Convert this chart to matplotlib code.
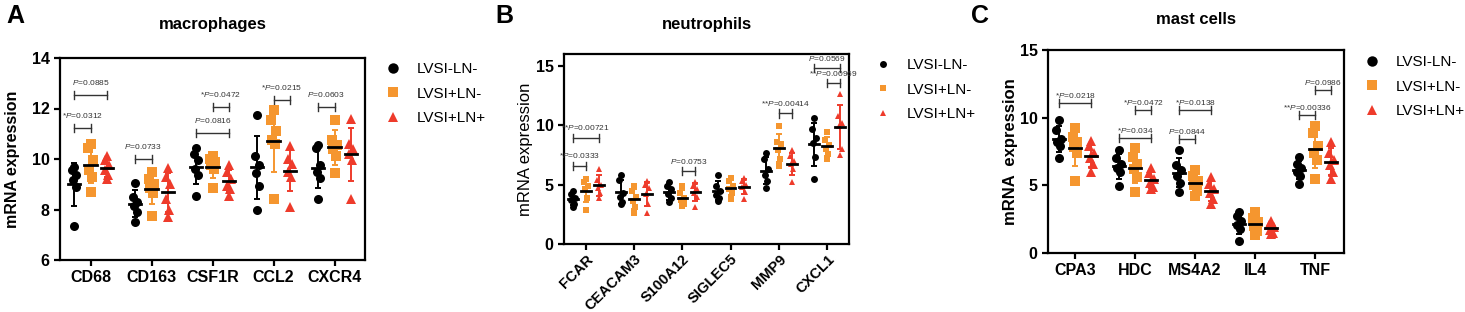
import numpy as np
import matplotlib.pyplot as plt
from matplotlib.lines import Line2D

plt.rcParams['font.family'] = ['Liberation Sans', 'DejaVu Sans']
plt.rcParams['mathtext.fontset'] = 'custom'
plt.rcParams['mathtext.it'] = 'Liberation Sans:italic'
plt.rcParams['mathtext.rm'] = 'Liberation Sans'

groups = ['LVSI-LN-', 'LVSI+LN-', 'LVSI+LN+']
colors = ['#000000', '#F5962F', '#EE3B2B']
markers = ['o', 's', '^']

# macrophages
mac_genes = ['CD68', 'CD163', 'CSF1R', 'CCL2', 'CXCR4']
mac_black = [[9.7, 9.55, 9.35, 9.15, 8.9, 7.35],
             [9.05, 8.5, 8.3, 8.15, 7.9, 7.5],
             [10.45, 10.2, 9.95, 9.6, 9.35, 8.55],
             [11.75, 10.1, 9.75, 9.45, 8.95, 8.0],
             [10.55, 10.45, 9.75, 9.5, 9.25, 8.4]]
mac_orange = [[10.6, 10.45, 9.95, 9.55, 9.3, 8.7],
              [9.5, 9.2, 9.0, 8.85, 8.65, 7.75],
              [10.1, 10.0, 9.9, 9.75, 9.6, 8.85],
              [11.95, 11.55, 11.1, 10.75, 10.6, 8.4],
              [11.55, 10.75, 10.55, 10.4, 10.1, 9.45]]
mac_red = [[10.1, 9.95, 9.75, 9.55, 9.35, 9.2],
           [9.65, 9.3, 9.0, 8.4, 8.0, 7.7],
           [9.75, 9.5, 9.2, 8.95, 8.8, 8.55],
           [10.5, 10.0, 9.8, 9.5, 9.3, 8.1],
           [11.6, 10.6, 10.4, 10.2, 9.95, 8.4]]
mac_brackets = [(0, 0, 2, 12.55, '$\\mathit{P}$=0.0885'),
                (0, 0, 1, 11.22, '*$\\mathit{P}$=0.0312'),
                (1, 0, 1, 10.0, '$\\mathit{P}$=0.0733'),
                (2, 0, 2, 11.03, '$\\mathit{P}$=0.0816'),
                (2, 1, 2, 12.06, '*$\\mathit{P}$=0.0472'),
                (3, 1, 2, 12.32, '*$\\mathit{P}$=0.0215'),
                (4, 0, 1, 12.06, '$\\mathit{P}$=0.0603')]

# neutrophils
neu_genes = ['FCAR', 'CEACAM3', 'S100A12', 'SIGLEC5', 'MMP9', 'CXCL1']
neu_black = [[4.5, 4.2, 3.9, 3.7, 3.4, 3.1],
             [5.8, 5.4, 4.3, 4.0, 3.5, 3.4],
             [5.2, 4.9, 4.6, 4.2, 3.9, 3.5],
             [5.8, 4.9, 4.5, 4.1, 3.9, 3.6],
             [7.7, 7.2, 6.3, 5.8, 5.3, 4.7],
             [10.6, 9.7, 8.9, 8.5, 7.3, 5.5]]
neu_orange = [[5.5, 5.2, 4.9, 4.6, 3.9, 2.9],
              [4.9, 4.5, 4.0, 3.6, 3.1, 2.6],
              [4.9, 4.3, 3.9, 3.7, 3.4, 3.2],
              [5.6, 5.3, 4.9, 4.6, 4.3, 3.8],
              [9.9, 8.6, 8.4, 7.9, 7.2, 6.6],
              [9.4, 8.8, 8.3, 8.0, 7.6, 7.2]]
neu_red = [[6.3, 5.4, 5.0, 4.7, 4.3, 3.9],
           [5.3, 4.95, 4.7, 4.2, 3.4, 2.6],
           [5.2, 4.9, 4.6, 4.3, 4.0, 3.1],
           [5.6, 5.3, 5.0, 4.8, 4.4, 3.8],
           [7.9, 7.4, 7.0, 6.7, 6.3, 5.2],
           [12.6, 10.8, 10.2, 9.9, 8.0, 7.5]]
neu_brackets = [(0, 0, 2, 8.96, '**$\\mathit{P}$=0.00721'),
                (0, 0, 1, 6.6, '*$\\mathit{P}$=0.0333'),
                (2, 1, 2, 6.13, '$\\mathit{P}$=0.0753'),
                (4, 1, 2, 10.99, '**$\\mathit{P}$=0.00414'),
                (5, 0, 2, 14.83, '$\\mathit{P}$=0.0569'),
                (5, 1, 2, 13.53, '**$\\mathit{P}$=0.00969')]

# mast cells
mast_genes = ['CPA3', 'HDC', 'MS4A2', 'IL4', 'TNF']
mast_black = [[9.8, 9.1, 8.4, 8.2, 7.9, 7.0],
              [7.6, 7.0, 6.6, 6.3, 6.0, 4.95],
              [7.6, 6.5, 6.1, 5.7, 5.2, 4.5],
              [3.0, 2.7, 2.4, 2.1, 1.8, 0.9],
              [7.1, 6.6, 6.3, 6.0, 5.7, 5.1]]
mast_orange = [[9.2, 8.6, 8.2, 7.8, 7.4, 5.3],
               [7.75, 7.1, 6.6, 6.2, 5.6, 4.5],
               [6.1, 5.7, 5.3, 5.0, 4.6, 4.2],
               [3.0, 2.6, 2.3, 2.0, 1.6, 1.35],
               [9.4, 8.9, 7.9, 7.4, 6.9, 5.5]]
mast_red = [[8.3, 7.9, 7.4, 7.0, 6.6, 6.0],
            [6.3, 5.9, 5.5, 5.2, 4.9, 4.7],
            [5.6, 5.1, 4.7, 4.4, 4.0, 3.6],
            [2.4, 2.1, 1.9, 1.7, 1.5, 1.4],
            [8.2, 7.4, 6.9, 6.5, 6.0, 5.5]]
mast_brackets = [(0, 0, 2, 11.06, '*$\\mathit{P}$=0.0218'),
                 (1, 1, 2, 10.57, '*$\\mathit{P}$=0.0472'),
                 (1, 0, 2, 8.47, '*$\\mathit{P}$=0.034'),
                 (2, 0, 2, 10.57, '*$\\mathit{P}$=0.0138'),
                 (2, 0, 1, 8.4, '$\\mathit{P}$=0.0844'),
                 (4, 0, 1, 10.2, '**$\\mathit{P}$=0.00336'),
                 (4, 1, 2, 12.05, '$\\mathit{P}$=0.0986')]

offsets = [-0.27, 0.0, 0.27]
jitter = [0.0, -0.04, 0.04, -0.025, 0.025, 0.0]


def draw_panel(ax, genes, series, brackets, ms, tick_h, txt_off):
    for g, vals in enumerate(series):
        for i, v in enumerate(vals):
            v = np.array(v)
            x0 = i + offsets[g]
            ax.plot(x0 + np.array(jitter[:len(v)]), v, markers[g], color=colors[g],
                    ms=ms, mew=0, zorder=3, clip_on=False)
            m, s = v.mean(), v.std(ddof=1)
            ax.errorbar(x0, m, yerr=s, color=colors[g], capsize=2.5, lw=1.4,
                        capthick=1.4, zorder=2)
            ax.plot([x0 - 0.1, x0 + 0.1], [m, m], color='black', lw=2.0, zorder=4)
    for i, a, b, y, lab in brackets:
        x1, x2 = i + offsets[a], i + offsets[b]
        ax.plot([x1, x2], [y, y], color='#333333', lw=1.0)
        ax.plot([x1, x1], [y - tick_h, y + tick_h], color='#333333', lw=1.0)
        ax.plot([x2, x2], [y - tick_h, y + tick_h], color='#333333', lw=1.0)
        ax.annotate(lab, ((x1 + x2) / 2, y), xytext=(0, txt_off), textcoords='offset points',
                    ha='center', va='center', fontsize=6, color='#333333')
    ax.set_xticks(range(len(genes)))
    for sp in ax.spines.values():
        sp.set_linewidth(1.6)
    ax.tick_params(width=1.6, length=4)


fig = plt.figure(figsize=(14.65, 3.12), dpi=100)

axA = fig.add_axes([60 / 1465, 1 - 260 / 312, 305 / 1465, 202 / 312])
draw_panel(axA, mac_genes, [mac_black, mac_orange, mac_red], mac_brackets, 6.5, 0.16, 9)
axA.set_xlim(-0.5, 4.5)
axA.set_ylim(6, 14)
axA.set_yticks([6, 8, 10, 12, 14])
axA.set_xticklabels(mac_genes, fontsize=11.5, fontweight='bold')
axA.tick_params(axis='y', labelsize=11.5)
for t in axA.get_yticklabels():
    t.set_fontweight('bold')
axA.set_ylabel('mRNA expression', fontsize=11.5, fontweight='bold', labelpad=8)

axB = fig.add_axes([564 / 1465, 1 - 244 / 312, 285 / 1465, 190 / 312])
draw_panel(axB, neu_genes, [neu_black, neu_orange, neu_red], neu_brackets, 5.0, 0.34, 7)
axB.set_xlim(-0.45, 5.45)
axB.set_ylim(0, 16)
axB.set_yticks([0, 5, 10, 15])
axB.set_xticklabels(neu_genes, fontsize=10.5, fontweight='bold', rotation=45,
                    ha='right', rotation_mode='anchor')
axB.tick_params(axis='x', pad=2)
axB.tick_params(axis='y', labelsize=11.5)
for t in axB.get_yticklabels():
    t.set_fontweight('bold')
axB.set_ylabel('mRNA expression', fontsize=12, labelpad=2)

axC = fig.add_axes([1048 / 1465, 1 - 253 / 312, 296 / 1465, 203 / 312])
draw_panel(axC, mast_genes, [mast_black, mast_orange, mast_red], mast_brackets, 6.5, 0.3, 5.5)
axC.set_xlim(-0.45, 4.48)
axC.set_ylim(0, 15)
axC.set_yticks([0, 5, 10, 15])
axC.set_xticklabels(mast_genes, fontsize=11.5, fontweight='bold')
axC.tick_params(axis='y', labelsize=11.5)
for t in axC.get_yticklabels():
    t.set_fontweight('bold')
axC.set_ylabel('mRNA  expression', fontsize=12, fontweight='bold', labelpad=1)

# titles and panel letters
fig.text(213 / 1465, 1 - 25 / 312, 'macrophages', ha='center', va='center', fontsize=12, fontweight='bold')
fig.text(707 / 1465, 1 - 25 / 312, 'neutrophils', ha='center', va='center', fontsize=12, fontweight='bold')
fig.text(1196 / 1465, 1 - 20 / 312, 'mast cells', ha='center', va='center', fontsize=12, fontweight='bold')
fig.text(6 / 1465, 1 - 16 / 312, 'A', ha='left', va='center', fontsize=18, fontweight='bold')
fig.text(495 / 1465, 1 - 16 / 312, 'B', ha='left', va='center', fontsize=18, fontweight='bold')
fig.text(971 / 1465, 1 - 16 / 312, 'C', ha='left', va='center', fontsize=18, fontweight='bold')


def add_legend(x, y, ms):
    handles = [Line2D([], [], ls='none', marker=markers[k], color=colors[k], ms=ms, mew=0)
               for k in range(3)]
    fig.legend(handles, groups, loc='upper left', bbox_to_anchor=(x / 1465, 1 - y / 312),
               frameon=False, fontsize=11, handlelength=1.0, handletextpad=1.1,
               labelspacing=0.7, borderpad=0, borderaxespad=0)


add_legend(385, 62, 7.5)
add_legend(875, 58, 5)
add_legend(1364, 55, 7.5)

fig.savefig('out.png', dpi=100)
